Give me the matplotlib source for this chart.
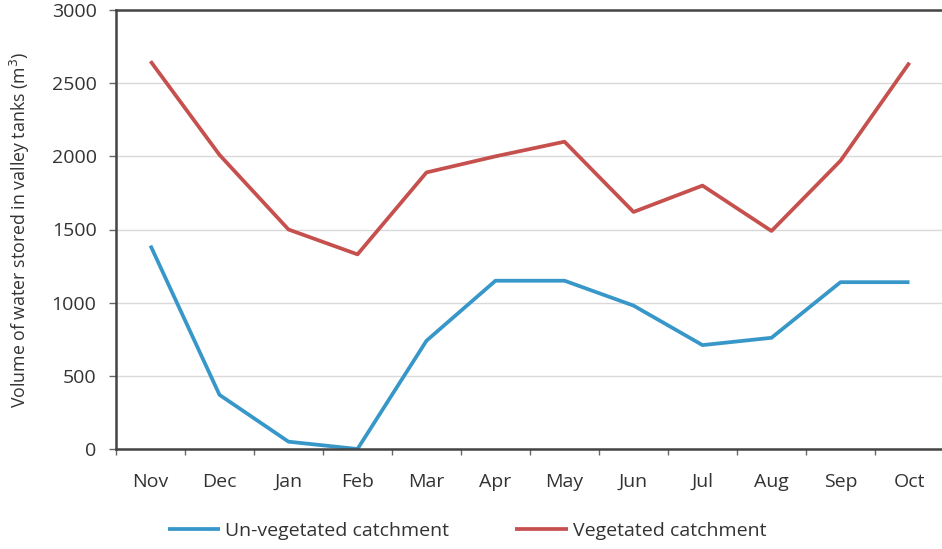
import matplotlib.pyplot as plt
import numpy as np

months = ['Nov', 'Dec', 'Jan', 'Feb', 'Mar', 'Apr', 'May', 'Jun', 'Jul', 'Aug', 'Sep', 'Oct']
unvegetated = [1390, 370, 50, 0, 740, 1150, 1150, 980, 710, 760, 1140, 1140]
vegetated = [2650, 2010, 1500, 1330, 1890, 2000, 2100, 1620, 1800, 1490, 1970, 2640]

plt.rcParams['font.family'] = ['Open Sans', 'DejaVu Sans']

fig = plt.figure(figsize=(9.42, 5.49), dpi=100)
ax = fig.add_axes([116 / 942, 1 - 449 / 549, 828 / 942, 439 / 549])

x = np.arange(len(months))
ax.plot(x, unvegetated, color='#3797c8', lw=2.7, label='Un-vegetated catchment', solid_capstyle='butt')
ax.plot(x, vegetated, color='#c5504d', lw=2.7, label='Vegetated catchment', solid_capstyle='butt')

ax.set_xlim(-0.5, len(months) - 0.5)
ax.set_ylim(0, 3000)
ax.set_yticks(range(0, 3001, 500))
ax.set_xticks(x)
ax.set_xticklabels(months, fontsize=14, color='#333333')
ax.set_xticks(np.arange(-0.5, len(months), 1), minor=True)
ax.tick_params(axis='x', which='major', length=0, pad=17)
ax.tick_params(axis='x', which='minor', length=4, width=1, color='#666666', direction='out')
ax.tick_params(axis='y', length=5, width=1, color='#666666', labelsize=14, labelcolor='#333333', pad=9)
ax.grid(axis='y', color='#d9d9d9', lw=1)
ax.set_axisbelow(True)

for side in ['left', 'bottom', 'top']:
    ax.spines[side].set_color('#444444')
    ax.spines[side].set_linewidth(1.8)
ax.spines['right'].set_visible(False)

ax.set_ylabel('Volume of water stored in valley tanks (m$^3$)', fontsize=12.8, color='#333333', labelpad=14)

fig.legend(loc='center', bbox_to_anchor=(467 / 942, 1 - 531 / 549), ncol=2, frameon=False,
           fontsize=14, handlelength=2.7, handletextpad=0.25, columnspacing=3.4, labelcolor='#333333')

fig.savefig('out.png', dpi=100)
